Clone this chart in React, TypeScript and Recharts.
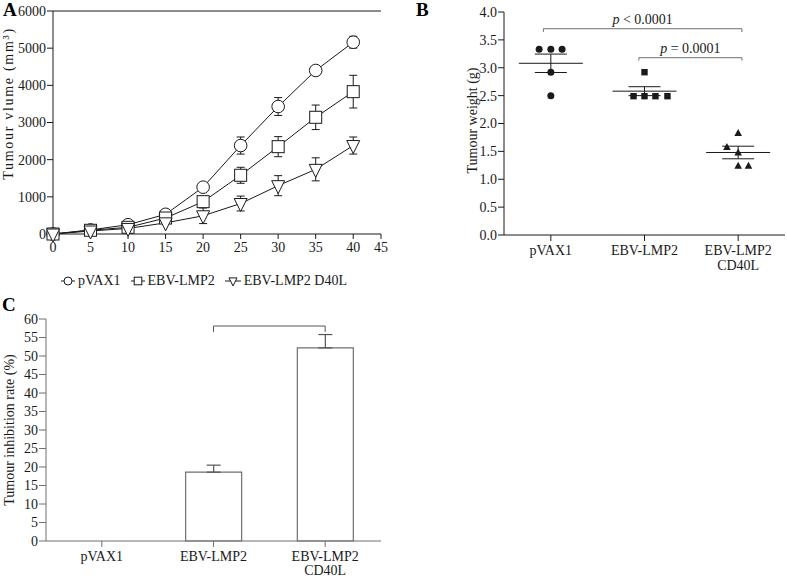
import React from "react";
import {
  LineChart,
  Line,
  XAxis,
  YAxis,
  ErrorBar,
  Legend,
  ReferenceLine,
  ScatterChart,
  Scatter,
  BarChart,
  Bar,
} from "recharts";

const FONT = "'Liberation Serif', 'Times New Roman', serif";
const INK = "#1a1a1a";
const GREY = "#6f6f6f";

// ---- Panel A: tumour volume over time ----
const days = [0, 5, 10, 15, 20, 25, 30, 35, 40];
const X_END = 43.7; // axis runs a little past day 40, where "45" sits
const xTickLabels = ["0", "5", "10", "15", "20", "25", "30", "35", "40", "45"];
const volumeTicks = [0, 1000, 2000, 3000, 4000, 5000, 6000];
const seriesNames = ["pVAX1", "EBV-LMP2", "EBV-LMP2 D40L"];

const pvaxVolume = [0, 110, 250, 530, 1260, 2380, 3430, 4400, 5160];
const pvaxSem = [0, 0, 0, 0, 0, 230, 240, 60, 160];
const lmp2Volume = [0, 100, 180, 430, 870, 1580, 2350, 3140, 3830];
const lmp2Sem = [0, 0, 0, 0, 60, 215, 270, 330, 440];
const cd40Volume = [0, 80, 150, 300, 490, 820, 1300, 1740, 2380];
const cd40Sem = [0, 0, 0, 0, 210, 200, 270, 310, 230];

// ---- Panel B: tumour weight per mouse ----
const groupLabels = ["pVAX1", "EBV-LMP2", "EBV-LMP2\nCD40L"];
const groupCentres = [0.5, 1.5, 2.5];
const weightTicks = [0, 0.5, 1, 1.5, 2, 2.5, 3, 3.5, 4];

const pvaxWeights = [3.33, 3.33, 3.33, 2.92, 2.5];
const pvaxJitter = [-0.125, 0, 0.12, 0, 0];
const lmp2Weights = [2.92, 2.49, 2.49, 2.49, 2.49];
const lmp2Jitter = [0, -0.117, 0, 0.117, 0.245];
const cd40Weights = [1.83, 1.58, 1.48, 1.24, 1.24];
const cd40Jitter = [0, -0.12, 0, 0, 0.11];

const weightMeans = [3.08, 2.58, 1.48];
const weightSems = [0.165, 0.08, 0.113];

// brackets: [from x, to x, bar height, drop-to height, p text]
const weightBrackets: [number, number, number, number, string][] = [
  [0.42, 2.54, 3.7, 3.64, "< 0.0001"],
  [1.44, 2.54, 3.18, 3.13, "= 0.0001"],
];

// ---- Panel C: tumour inhibition rate ----
const rateTicks = [0, 5, 10, 15, 20, 25, 30, 35, 40, 45, 50, 55, 60];
const inhibitionRate = [0, 18.6, 52.2];
const inhibitionErr = [0, 1.9, 3.6];
const rateBracket = [58.1, 56.5];

const volumeRows = days.map((d, i) => ({
  day: d,
  pvax: pvaxVolume[i],
  pvaxErr: pvaxSem[i],
  lmp2: lmp2Volume[i],
  lmp2Err: lmp2Sem[i],
  cd40: cd40Volume[i],
  cd40Err: cd40Sem[i],
}));

const toPoints = (vals: number[], jitter: number[], g: number) =>
  vals.map((v, i) => ({ x: groupCentres[g] + jitter[i], y: v }));

const meanRows = weightMeans.map((m, i) => ({ x: groupCentres[i], y: m, sem: weightSems[i] }));

const rateRows = groupLabels.map((g, i) => ({
  group: g,
  rate: inhibitionRate[i],
  err: [0, inhibitionErr[i]],
}));

const tickText = { fill: INK, fontSize: 14, fontFamily: FONT };

// markers
function OpenCircle({ cx, cy, r = 6.3 }: any) {
  return <circle cx={cx} cy={cy} r={r} fill="#fff" stroke={INK} strokeWidth={1} />;
}
function OpenSquare({ cx, cy, s = 6 }: any) {
  return <rect x={cx - s} y={cy - s} width={s * 2} height={s * 2} fill="#fff" stroke={INK} strokeWidth={1} />;
}
function OpenTriangle({ cx, cy, k = 1 }: any) {
  const d = `M${cx - 6.5 * k},${cy - 5 * k} L${cx + 6.5 * k},${cy - 5 * k} L${cx},${cy + 8 * k} Z`;
  return <path d={d} fill="#fff" stroke={INK} strokeWidth={1} />;
}

const yLabel = (text: string, x: number, shift = 0, extra: any = {}) => (props: any) => {
  const vb = props.viewBox;
  const cy = vb.y + vb.height / 2 + shift;
  return (
    <text
      x={x}
      y={cy}
      transform={`rotate(-90, ${x}, ${cy})`}
      textAnchor="middle"
      dominantBaseline="central"
      fill={INK}
      fontSize={14}
      fontFamily={FONT}
      {...extra}
    >
      {text}
    </text>
  );
};

function VolumeLegend() {
  const icons = [
    <OpenCircle cx={7} cy={7} r={4} />,
    <OpenSquare cx={7} cy={7} s={3.8} />,
    <OpenTriangle cx={8} cy={7} k={0.62} />,
  ];
  return (
    <div
      style={{
        display: "flex",
        height: 28,
        paddingLeft: 61,
        paddingTop: 6,
        boxSizing: "border-box",
        fontFamily: FONT,
        fontSize: 14,
        color: INK,
        alignItems: "center",
      }}
    >
      {seriesNames.map((n, i) => (
        <div key={n} style={{ display: "flex", alignItems: "center", marginRight: 10 }}>
          <svg width={i === 2 ? 16 : 14} height={14}>
            <line x1={0} x2={i === 2 ? 16 : 14} y1={7} y2={7} stroke={INK} />
            {icons[i]}
          </svg>
          <span style={{ marginLeft: 3 }}>{n}</span>
        </div>
      ))}
    </div>
  );
}

function VolumePanel() {
  const series = [
    { key: "pvax", Marker: OpenCircle },
    { key: "lmp2", Marker: OpenSquare },
    { key: "cd40", Marker: OpenTriangle },
  ];
  return (
    <LineChart width={400} height={292} data={volumeRows} margin={{ top: 11, right: 19, bottom: 0, left: 0 }}>
      <XAxis
        dataKey="day"
        type="number"
        domain={[0, X_END]}
        ticks={[...days, X_END]}
        interval={0}
        tickFormatter={(_: any, i: number) => xTickLabels[i]}
        stroke={INK}
        tick={tickText}
        tickSize={5}
        tickMargin={3}
        height={30}
      />
      <YAxis
        domain={[0, 6000]}
        ticks={volumeTicks}
        interval={0}
        width={53}
        stroke={INK}
        tick={tickText}
        tickSize={6}
        tickMargin={1}
        label={yLabel("Tumour vlume (mm³)", 8, -19, { letterSpacing: 1.7 })}
      />
      <ReferenceLine y={6000} stroke={INK} />
      {series.map(({ key, Marker }) => (
        <Line
          key={key}
          dataKey={key}
          stroke={INK}
          strokeWidth={1}
          isAnimationActive={false}
          dot={(p: any) => <Marker key={`${key}-${p.index}`} cx={p.cx} cy={p.cy} />}
        >
          <ErrorBar dataKey={`${key}Err`} direction="y" width={4} stroke={INK} strokeWidth={1} />
        </Line>
      ))}
      <Legend verticalAlign="bottom" height={28} content={() => <VolumeLegend />} />
    </LineChart>
  );
}

function GroupTick({ x, y, index, lineGap = 15 }: any) {
  const lines = groupLabels[index].split("\n");
  return (
    <text x={x} y={y} textAnchor="middle" fill={INK} fontSize={14} fontFamily={FONT}>
      {lines.map((l, i) => (
        <tspan key={l} x={x} dy={i === 0 ? "0.71em" : lineGap}>
          {l}
        </tspan>
      ))}
    </text>
  );
}

function PLabel({ viewBox, text }: any) {
  const cx = viewBox.x + viewBox.width / 2;
  return (
    <text x={cx} y={viewBox.y - 5} textAnchor="middle" fill={INK} fontSize={14} fontFamily={FONT}>
      <tspan fontStyle="italic">p</tspan> {text}
    </text>
  );
}

function WeightPanel() {
  return (
    <ScatterChart width={387} height={290} margin={{ top: 12, right: 2, bottom: 0, left: 0 }}>
      <XAxis
        type="number"
        dataKey="x"
        domain={[0, 3]}
        ticks={groupCentres}
        interval={0}
        stroke={INK}
        tickSize={6}
        tickMargin={4}
        height={55}
        tick={<GroupTick />}
      />
      <YAxis
        type="number"
        dataKey="y"
        domain={[0, 4]}
        ticks={weightTicks}
        interval={0}
        tickFormatter={(v: number) => v.toFixed(1)}
        width={104}
        stroke={INK}
        tick={tickText}
        tickSize={6}
        tickMargin={1}
        label={yLabel("Tumour weight (g)", 72, -3)}
      />
      {weightBrackets.map(([x1, x2, y, yd, t]) => (
        <React.Fragment key={t}>
          <ReferenceLine
            segment={[{ x: x1, y }, { x: x2, y }]}
            stroke={GREY}
            label={(p: any) => <PLabel {...p} text={t} />}
          />
          <ReferenceLine segment={[{ x: x1, y }, { x: x1, y: yd }]} stroke={GREY} />
          <ReferenceLine segment={[{ x: x2, y }, { x: x2, y: yd }]} stroke={GREY} />
        </React.Fragment>
      ))}
      <Scatter
        data={meanRows}
        isAnimationActive={false}
        shape={(p: any) => <line x1={p.cx - 32} x2={p.cx + 32} y1={p.cy} y2={p.cy} stroke={INK} strokeWidth={1} />}
      >
        <ErrorBar dataKey="sem" direction="y" width={16} stroke={INK} strokeWidth={1} />
      </Scatter>
      <Scatter
        data={toPoints(pvaxWeights, pvaxJitter, 0)}
        isAnimationActive={false}
        shape={(p: any) => <circle cx={p.cx} cy={p.cy} r={3.5} fill={INK} />}
      />
      <Scatter
        data={toPoints(lmp2Weights, lmp2Jitter, 1)}
        isAnimationActive={false}
        shape={(p: any) => <rect x={p.cx - 3.2} y={p.cy - 3.2} width={6.4} height={6.4} fill={INK} />}
      />
      <Scatter
        data={toPoints(cd40Weights, cd40Jitter, 2)}
        isAnimationActive={false}
        shape={(p: any) => (
          <path d={`M${p.cx},${p.cy - 4} L${p.cx + 3.8},${p.cy + 3} L${p.cx - 3.8},${p.cy + 3} Z`} fill={INK} />
        )}
      />
    </ScatterChart>
  );
}

function RatePanel() {
  return (
    <BarChart width={400} height={288} data={rateRows} margin={{ top: 29, right: 19, bottom: 0, left: 0 }}>
      <XAxis
        dataKey="group"
        interval={0}
        stroke={GREY}
        tickSize={6}
        tickMargin={4}
        height={37}
        tick={<GroupTick lineGap={14} />}
      />
      <XAxis xAxisId="top" dataKey="group" orientation="top" height={0} tick={false} tickLine={false} stroke={GREY} />
      <YAxis
        domain={[0, 60]}
        ticks={rateTicks}
        interval={0}
        width={46}
        stroke={GREY}
        tick={tickText}
        tickSize={7}
        tickMargin={1}
        label={yLabel("Tumour inhibition rate (%)", 9, 0)}
      />
      <YAxis yAxisId="right" orientation="right" domain={[0, 60]} width={0} tick={false} tickLine={false} stroke={GREY} />
      <ReferenceLine
        segment={[{ x: groupLabels[1], y: rateBracket[0] }, { x: groupLabels[2], y: rateBracket[0] }]}
        stroke="#555"
      />
      <ReferenceLine
        segment={[{ x: groupLabels[1], y: rateBracket[0] }, { x: groupLabels[1], y: rateBracket[1] }]}
        stroke="#555"
      />
      <ReferenceLine
        segment={[{ x: groupLabels[2], y: rateBracket[0] }, { x: groupLabels[2], y: rateBracket[1] }]}
        stroke="#555"
      />
      <Bar dataKey="rate" barSize={56} fill="#fff" stroke={GREY} strokeWidth={1.2} isAnimationActive={false}>
        <ErrorBar dataKey="err" direction="y" width={7} stroke="#555" strokeWidth={1.2} />
      </Bar>
    </BarChart>
  );
}

export default function App() {
  return (
    <div
      style={{
        position: "absolute",
        left: 0,
        top: 0,
        width: 787,
        height: 578,
        background: "#fff",
        fontFamily: FONT,
        overflow: "hidden",
      }}
    >
      <div style={{ position: "absolute", left: 0, top: 0 }}>
        <VolumePanel />
      </div>
      <div style={{ position: "absolute", left: 400, top: 0 }}>
        <WeightPanel />
      </div>
      <div style={{ position: "absolute", left: 0, top: 290 }}>
        <RatePanel />
      </div>
      <svg width={787} height={578} style={{ position: "absolute", left: 0, top: 0, pointerEvents: "none" }}>
        <g fontFamily={FONT} fontWeight="bold" fontSize={19} fill="#000">
          <text x={3} y={16}>A</text>
          <text x={416} y={16}>B</text>
          <text x={2} y={311}>C</text>
        </g>
      </svg>
    </div>
  );
}
